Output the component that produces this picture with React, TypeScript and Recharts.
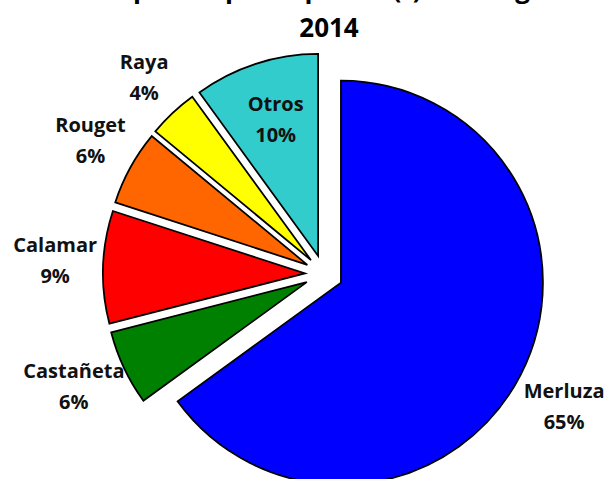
import React from 'react';
import { PieChart, Pie, Cell, Sector } from 'recharts';

const especies = ['Merluza', 'Castañeta', 'Calamar', 'Rouget', 'Raya', 'Otros'];
const porcentajes = [65, 6, 9, 6, 4, 10];
const colores = ['#0000FF', '#008000', '#FF0000', '#FF6600', '#FFFF00', '#33CCCC'];
const titulo = ['Capturas por especies (t) en Tánger', '2014'];

const data = especies.map((name, i) => ({ name, value: porcentajes[i] }));

const W = 607;
const H = 509;
const RAD = Math.PI / 180;
const EXPLOSION = 19;
const FONT = '"Open Sans", Lato, sans-serif';
const LABEL_SIZE = 20;
const LINE_GAP = 31;
const EDGE = 3;

// every slice pulled out from the centre along its bisector
const renderSector = (props: any) => {
  const { cx, cy, midAngle } = props;
  return (
    <Sector
      {...props}
      cx={cx + EXPLOSION * Math.cos(midAngle * RAD)}
      cy={cy - EXPLOSION * Math.sin(midAngle * RAD)}
    />
  );
};

const renderLabel = (props: any) => {
  const { cx, cy, midAngle, outerRadius, name, value } = props;
  let ang = midAngle * RAD;
  const cos = Math.cos(ang);
  const sin = Math.sin(ang);
  const inside = value >= 10 && value < 50;
  // outside labels sit a bit further out on the sides and below
  const d = inside
    ? EXPLOSION + outerRadius * 0.68
    : outerRadius + 47 + 20 * Math.abs(cos) + 22 * Math.max(0, -sin);
  // if the label would leave the chart, slide it round the circle
  const halfW = (name.length * LABEL_SIZE * 0.57) / 2;
  const xMax = W - EDGE - halfW;
  const xMin = EDGE + halfW;
  let x = cx + d * cos;
  if (x > xMax) {
    ang = Math.sign(sin || 1) * Math.acos((xMax - cx) / d);
  } else if (x < xMin) {
    ang = Math.sign(sin || 1) * Math.acos((xMin - cx) / d);
  }
  x = cx + d * Math.cos(ang);
  const y = cy - d * Math.sin(ang);
  return (
    <text
      x={x}
      y={y}
      textAnchor="middle"
      fontFamily={FONT}
      fontWeight="bold"
      fontSize={LABEL_SIZE}
      fill="#111"
    >
      <tspan x={x} y={y - LINE_GAP / 2 + 1.5}>{name}</tspan>
      <tspan x={x} y={y + LINE_GAP / 2 + 1.5}>{`${value}%`}</tspan>
    </text>
  );
};

const App = () => {
  return (
    <div style={{ position: 'absolute', left: 0, top: -30 }}>
      <PieChart width={W} height={H}>
        <text x={329} y={28} textAnchor="middle" fontFamily={FONT} fontWeight="bold" fontSize={26} fill="#000">
          {titulo[0]}
        </text>
        <text x={329} y={67} textAnchor="middle" fontFamily={FONT} fontWeight="bold" fontSize={26} fill="#000">
          {titulo[1]}
        </text>
        <Pie
          data={data}
          dataKey="value"
          nameKey="name"
          cx={319}
          cy={299}
          outerRadius={202}
          startAngle={90}
          endAngle={-270}
          stroke="#000"
          strokeWidth={1.75}
          shape={renderSector}
          activeShape={renderSector}
          inactiveShape={renderSector}
          label={renderLabel}
          labelLine={false}
          isAnimationActive={false}
        >
          {data.map((d, i) => (
            <Cell key={d.name} fill={colores[i]} />
          ))}
        </Pie>
      </PieChart>
    </div>
  );
};

export default App;
